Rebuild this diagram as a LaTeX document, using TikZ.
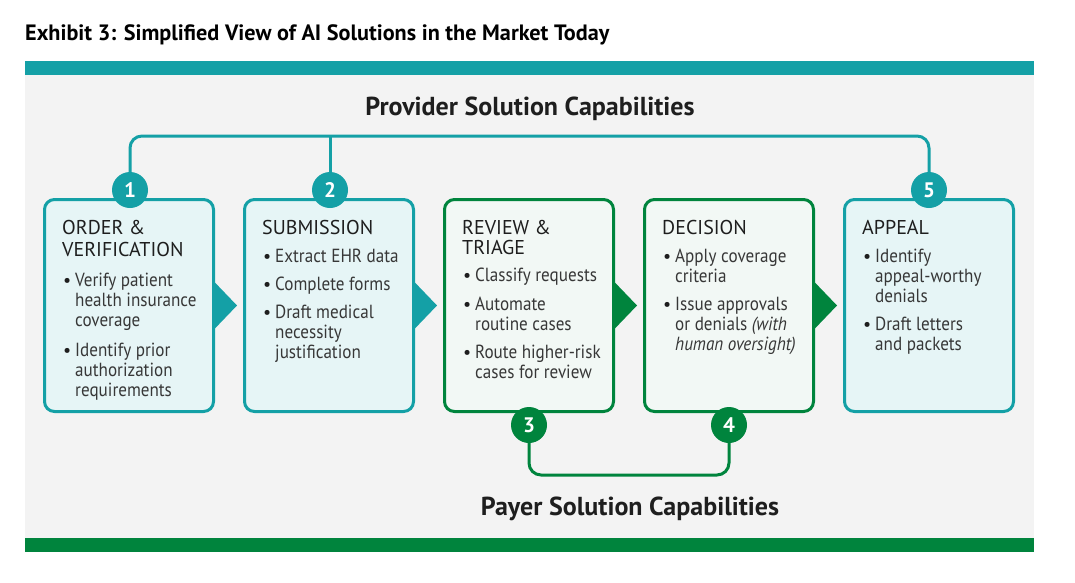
\documentclass[tikz,border=0pt]{standalone}
\usepackage{fontspec}
\setmainfont{PT Sans}
\newfontfamily\bodyf[FakeStretch=0.9]{PT Sans}
\usetikzlibrary{calc}
\definecolor{tealc}{RGB}{20,160,166}
\definecolor{greenc}{RGB}{0,132,61}
\definecolor{tealfill}{RGB}{230,245,246}
\definecolor{greenfill}{RGB}{242,248,245}
\definecolor{panelc}{RGB}{243,243,243}
\definecolor{headc}{RGB}{30,30,30}
\definecolor{bodyc}{RGB}{55,55,55}
\begin{document}
\begin{tikzpicture}[x=1pt,y=-1pt,
  box/.style={draw, line width=3pt, rounded corners=10pt, minimum width=169pt, minimum height=212pt, inner sep=0pt},
  tbox/.style={box, draw=tealc, fill=tealfill},
  gbox/.style={box, draw=greenc, fill=greenfill},
  num/.style={circle, minimum size=36pt, inner sep=0pt, text=white, font=\fontsize{21}{21}\selectfont\bfseries},
  hd/.style={anchor=base west, inner sep=0pt, font=\fontsize{20}{20}\selectfont, text=headc},
  tx/.style={anchor=base west, inner sep=0pt, font=\bodyf\fontsize{19}{20}\selectfont, text=bodyc},
  bu/.style={anchor=base west, inner sep=0pt, font=\fontsize{18}{20}\selectfont, text=headc},
  link/.style={line width=3pt, rounded corners=12pt},
  bigt/.style={inner sep=0pt, font=\fontsize{26}{26}\selectfont\bfseries, text=headc}]

\useasboundingbox (0,0) rectangle (1075,582);
\fill[white] (0,0) rectangle (1075,582);
\fill[panelc] (25,75) rectangle (1034,538);
\fill[tealc] (25,61) rectangle (1034,75);
\fill[greenc] (25,538) rectangle (1034,552);

\node[anchor=base west, inner sep=0pt, font=\fontsize{22.2}{22}\selectfont\bfseries, text=black] (title) at (25,40) {Exhibit 3: Simplified View of AI Solutions in the Market Today};

\node[bigt, anchor=base] (prov) at (530,115) {Provider Solution Capabilities};
\node[bigt, anchor=base] (pay) at (630,515) {Payer Solution Capabilities};

% boxes
\node[tbox] (b1) at (129,305.5) {};
\node[tbox] (b2) at (329,305.5) {};
\node[gbox] (b3) at (529,305.5) {};
\node[gbox] (b4) at (729,305.5) {};
\node[tbox] (b5) at (929,305.5) {};

% arrow heads between boxes
\fill[tealc] ($(b1.east)+(-2,-25)$) -- ($(b1.east)+(22,0)$) -- ($(b1.east)+(-2,25)$) -- cycle;
\fill[tealc] ($(b2.east)+(-2,-25)$) -- ($(b2.east)+(22,0)$) -- ($(b2.east)+(-2,25)$) -- cycle;
\fill[greenc] ($(b3.east)+(-2,-25)$) -- ($(b3.east)+(22,0)$) -- ($(b3.east)+(-2,25)$) -- cycle;
\fill[greenc] ($(b4.east)+(-2,-25)$) -- ($(b4.east)+(22,0)$) -- ($(b4.east)+(-2,25)$) -- cycle;

% number circles
\node[num, fill=tealc] (c1) at (130,190) {1};
\node[num, fill=tealc] (c2) at (330,190) {2};
\node[num, fill=greenc] (c3) at (529,425) {3};
\node[num, fill=greenc] (c4) at (729,425) {4};
\node[num, fill=tealc] (c5) at (929,190) {5};

% connectors
\coordinate (ty) at (0,136);
\coordinate (by) at (0,475);
\draw[link, tealc] (c1.north) -- (c1.north |- ty) -- (c5.north |- ty) -- (c5.north);
\draw[link, tealc] (c2.north) -- (c2.north |- ty);
\draw[link, greenc] (c3.south) -- (c3.south |- by) -- (c4.south |- by) -- (c4.south);

% box 1
\node[hd] (h1a) at (62,234) {ORDER \&};
\node[hd] (h1b) at (62,256) {VERIFICATION};
\node[bu] (u1a) at (63,286) {\textbullet};
\node[tx] (t1a) at (75,286) {Verify patient};
\node[tx] (t1b) at (75,306) {health insurance};
\node[tx] (t1c) at (75,326) {coverage};
\node[bu] (u1b) at (63,356) {\textbullet};
\node[tx] (t1d) at (75,356) {Identify prior};
\node[tx] (t1e) at (75,376) {authorization};
\node[tx] (t1f) at (75,396) {requirements};

% box 2
\node[hd] (h2a) at (262,234) {SUBMISSION};
\node[bu] (u2a) at (263,262) {\textbullet};
\node[tx] (t2a) at (275,262) {Extract EHR data};
\node[bu] (u2b) at (263,290) {\textbullet};
\node[tx] (t2b) at (275,290) {Complete forms};
\node[bu] (u2c) at (263,318) {\textbullet};
\node[tx] (t2c) at (275,318) {Draft medical};
\node[tx] (t2d) at (275,338) {necessity};
\node[tx] (t2e) at (275,358) {justification};

% box 3
\node[hd] (h3a) at (462,234) {REVIEW \&};
\node[hd] (h3b) at (462,254) {TRIAGE};
\node[bu] (u3a) at (463,281) {\textbullet};
\node[tx] (t3a) at (475,281) {Classify requests};
\node[bu] (u3b) at (463,310) {\textbullet};
\node[tx] (t3b) at (475,310) {Automate};
\node[tx] (t3c) at (475,330) {routine cases};
\node[bu] (u3c) at (463,358) {\textbullet};
\node[tx] (t3d) at (475,358) {Route higher-risk};
\node[tx] (t3e) at (475,378) {cases for review};

% box 4
\node[hd] (h4a) at (662,234) {DECISION};
\node[bu] (u4a) at (663,262) {\textbullet};
\node[tx] (t4a) at (675,262) {Apply coverage};
\node[tx] (t4b) at (675,282) {criteria};
\node[bu] (u4b) at (663,310) {\textbullet};
\node[tx] (t4c) at (675,310) {Issue approvals};
\node[tx] (t4d) at (675,330) {or denials \textit{(with}};
\node[tx] (t4e) at (675,350) {\textit{human oversight)}};

% box 5
\node[hd] (h5a) at (862,234) {APPEAL};
\node[bu] (u5a) at (863,262) {\textbullet};
\node[tx] (t5a) at (875,262) {Identify};
\node[tx] (t5b) at (875,282) {appeal-worthy};
\node[tx] (t5c) at (875,302) {denials};
\node[bu] (u5b) at (863,330) {\textbullet};
\node[tx] (t5d) at (875,330) {Draft letters};
\node[tx] (t5e) at (875,350) {and packets};
\end{tikzpicture}
\end{document}
